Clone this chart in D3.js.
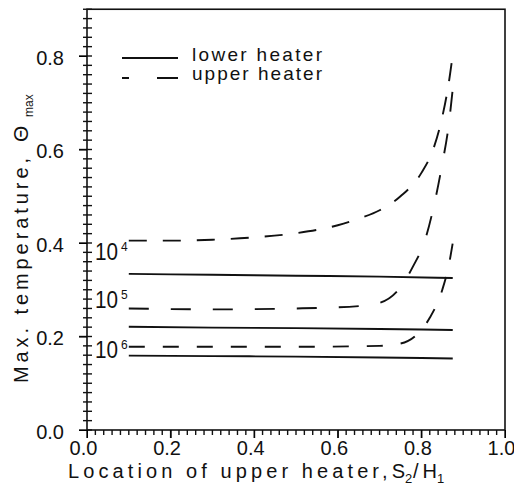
<!DOCTYPE html>
<html>
<head>
<meta charset="utf-8">
<script src="https://cdn.jsdelivr.net/npm/d3@7"></script>
<style>
  body { margin: 0; background: #fff; }
  text { font-family: "Liberation Sans", Arial, sans-serif; fill: #111; }
</style>
</head>
<body>
<div id="wrapper"></div>
<script>
// data
const xTicks = [0.0, 0.2, 0.4, 0.6, 0.8, 1.0]
const yTicks = [0.0, 0.2, 0.4, 0.6, 0.8]

const lowerX = [0.1, 0.3, 0.5, 0.7, 0.875]
const lower1e4 = [0.334, 0.332, 0.330, 0.328, 0.325]
const lower1e5 = [0.221, 0.219, 0.218, 0.216, 0.214]
const lower1e6 = [0.159, 0.158, 0.157, 0.155, 0.153]

const upper1e4X = [0.1, 0.2, 0.3, 0.4, 0.5, 0.6, 0.65, 0.7, 0.75, 0.8, 0.83, 0.85, 0.865, 0.876]
const upper1e4 = [0.405, 0.405, 0.407, 0.412, 0.421, 0.438, 0.452, 0.47, 0.5, 0.55, 0.605, 0.67, 0.74, 0.81]
const upper1e5X = [0.1, 0.3, 0.5, 0.65, 0.7, 0.74, 0.78, 0.81, 0.83, 0.85, 0.865, 0.875]
const upper1e5 = [0.26, 0.258, 0.26, 0.265, 0.272, 0.295, 0.35, 0.41, 0.48, 0.57, 0.65, 0.73]
const upper1e6X = [0.1, 0.3, 0.5, 0.7, 0.75, 0.79, 0.82, 0.85, 0.865, 0.875]
const upper1e6 = [0.178, 0.178, 0.178, 0.18, 0.185, 0.205, 0.24, 0.30, 0.35, 0.40]

const raLabels = [
  {exp: "4", y: 0.364},
  {exp: "5", y: 0.261},
  {exp: "6", y: 0.154},
]

const width = 514
const height = 489

const svg = d3.select("#wrapper").append("svg")
  .attr("width", width)
  .attr("height", height)

const xScale = d3.scaleLinear().domain([0, 1]).range([87, 505])
const yScale = d3.scaleLinear().domain([0, 0.9]).range([430, 9.25])

// frame
svg.append("rect")
  .attr("x", xScale(0))
  .attr("y", yScale(0.9))
  .attr("width", xScale(1) - xScale(0))
  .attr("height", yScale(0) - yScale(0.9))
  .attr("fill", "none")
  .attr("stroke", "#111")
  .attr("stroke-width", 1.6)

const minorX = d3.range(0, 51).map(i => i / 50)
const minorY = d3.range(0, 46).map(i => i / 50)
const isMajor = v => Math.abs(v * 5 - Math.round(v * 5)) < 1e-6

// tick marks
const tickGroup = svg.append("g")
  .attr("stroke", "#111")
  .attr("stroke-width", 1.4)
tickGroup.selectAll("line.xt")
  .data(minorX)
  .join("line")
  .attr("class", "xt")
  .attr("x1", d => xScale(d)).attr("x2", d => xScale(d))
  .attr("y1", yScale(0))
  .attr("y2", d => yScale(0) + (isMajor(d) ? 8 : 5))
tickGroup.selectAll("line.yt")
  .data(minorY)
  .join("line")
  .attr("class", "yt")
  .attr("y1", d => yScale(d)).attr("y2", d => yScale(d))
  .attr("x1", d => xScale(0) - (isMajor(d) ? 8 : 4))
  .attr("x2", xScale(0) + 5)

// tick labels from the axis generators (tick lines hidden)
const xAxis = svg.append("g")
  .attr("transform", `translate(0,${yScale(0)})`)
  .call(d3.axisBottom(xScale).tickValues(xTicks).tickSize(8).tickPadding(3)
    .tickFormat(d3.format(".1f")))
  .call(g => g.select(".domain").remove())
xAxis.selectAll("text").attr("font-size", 20).attr("dx", -4)

const yAxis = svg.append("g")
  .attr("transform", `translate(${xScale(0)},0)`)
  .call(d3.axisLeft(yScale).tickValues(yTicks).tickSize(8).tickPadding(15)
    .tickFormat(d3.format(".1f")))
  .call(g => g.select(".domain").remove())
yAxis.selectAll("text").attr("font-size", 20).attr("dy", "0.42em")

// curves
const lineGen = d3.line()
  .x(d => xScale(d[0]))
  .y(d => yScale(d[1]))
  .curve(d3.curveMonotoneX)

const series = [
  {xs: lowerX, ys: lower1e4, dash: null},
  {xs: lowerX, ys: lower1e5, dash: null},
  {xs: lowerX, ys: lower1e6, dash: null},
  {xs: upper1e4X, ys: upper1e4, dash: "18,16"},
  {xs: upper1e5X, ys: upper1e5, dash: "20,22"},
  {xs: upper1e6X, ys: upper1e6, dash: "16,18"},
]
series.forEach(s => {
  svg.append("path")
    .attr("d", lineGen(s.xs.map((x, i) => [x, s.ys[i]])))
    .attr("fill", "none")
    .attr("stroke", "#111")
    .attr("stroke-width", 1.9)
    .attr("stroke-dasharray", s.dash)
})

// Ra labels 10^n
raLabels.forEach(d => {
  const yb = yScale(d.y)
  svg.append("text")
    .attr("x", 95).attr("y", yb)
    .attr("font-size", 23)
    .attr("textLength", 23)
    .attr("lengthAdjust", "spacingAndGlyphs")
    .text("10")
  svg.append("text")
    .attr("x", 121).attr("y", yb - 9)
    .attr("font-size", 12)
    .text(d.exp)
})

// legend
const legend = svg.append("g")
legend.append("line")
  .attr("x1", 122).attr("x2", 178).attr("y1", 58).attr("y2", 58)
  .attr("stroke", "#111").attr("stroke-width", 1.9)
legend.append("line")
  .attr("x1", 122).attr("x2", 178).attr("y1", 78).attr("y2", 78)
  .attr("stroke", "#111").attr("stroke-width", 1.9)
  .attr("stroke-dasharray", "7,28,21")
legend.append("text")
  .attr("x", 192).attr("y", 61)
  .attr("font-size", 19)
  .attr("textLength", 130)
  .attr("lengthAdjust", "spacing")
  .text("lower heater")
legend.append("text")
  .attr("x", 192).attr("y", 80)
  .attr("font-size", 19)
  .attr("textLength", 130)
  .attr("lengthAdjust", "spacing")
  .text("upper heater")

// x axis title
svg.append("text")
  .attr("x", 68).attr("y", 478)
  .attr("font-size", 20)
  .attr("textLength", 337)
  .attr("lengthAdjust", "spacing")
  .text("Location of upper heater,S")
svg.append("text")
  .attr("x", 405).attr("y", 483)
  .attr("font-size", 13)
  .text("2")
svg.append("text")
  .attr("x", 413).attr("y", 478)
  .attr("font-size", 20)
  .attr("textLength", 24)
  .attr("lengthAdjust", "spacing")
  .text("/H")
svg.append("text")
  .attr("x", 437).attr("y", 483)
  .attr("font-size", 13)
  .text("1")

// y axis title
const yTitle = svg.append("g")
  .attr("transform", "translate(28,383) rotate(-90)")
yTitle.append("text")
  .attr("x", 0).attr("y", 0)
  .attr("font-size", 20)
  .attr("textLength", 225)
  .attr("lengthAdjust", "spacing")
  .text("Max. temperature,")
yTitle.append("text")
  .attr("x", 241).attr("y", 0)
  .attr("font-size", 21)
  .text("Θ")
yTitle.append("text")
  .attr("x", 266).attr("y", 5)
  .attr("font-size", 12)
  .text("max")
</script>
</body>
</html>
